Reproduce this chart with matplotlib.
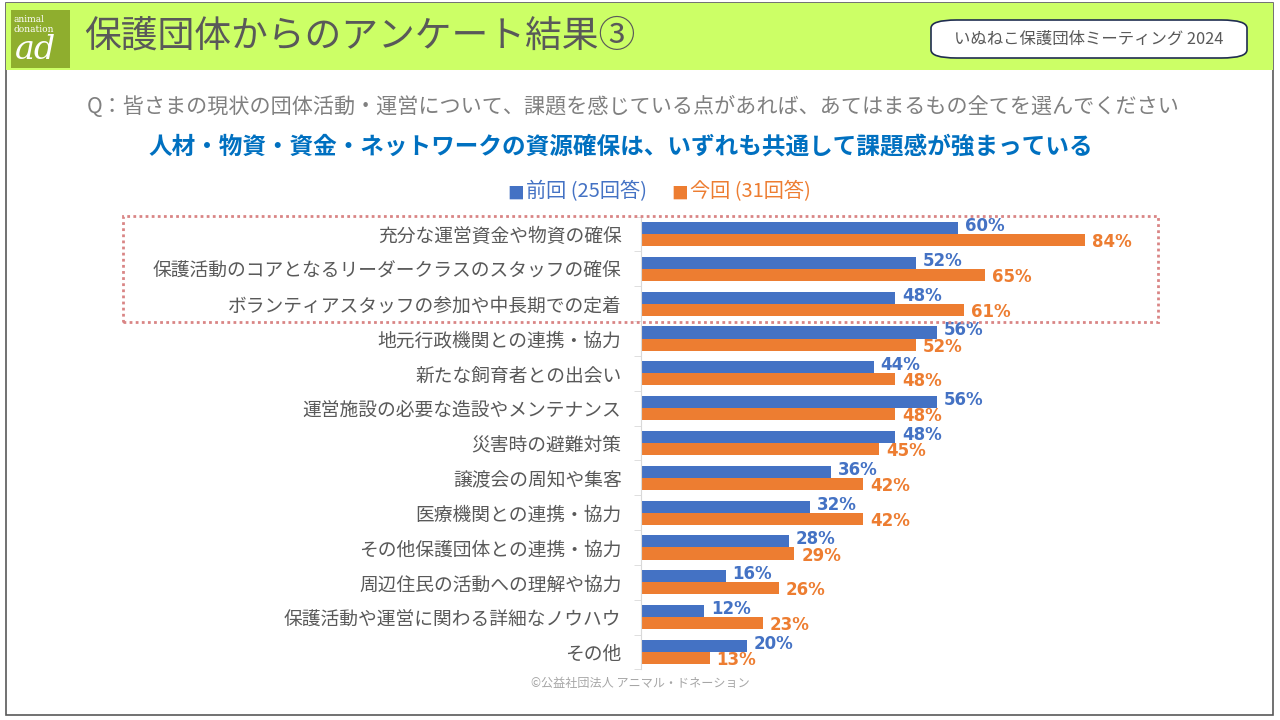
import matplotlib.pyplot as plt
from matplotlib.patches import Rectangle, FancyBboxPatch

plt.rcParams['font.family'] = ['Noto Sans CJK JP', 'DejaVu Sans']

# 設問の項目 (上から順に)
categories = [
    '充分な運営資金や物資の確保',
    '保護活動のコアとなるリーダークラスのスタッフの確保',
    'ボランティアスタッフの参加や中長期での定着',
    '地元行政機関との連携・協力',
    '新たな飼育者との出会い',
    '運営施設の必要な造設やメンテナンス',
    '災害時の避難対策',
    '譲渡会の周知や集客',
    '医療機関との連携・協力',
    'その他保護団体との連携・協力',
    '周辺住民の活動への理解や協力',
    '保護活動や運営に関わる詳細なノウハウ',
    'その他',
]
prev_pct = [60, 52, 48, 56, 44, 56, 48, 36, 32, 28, 16, 12, 20]   # 前回 (25回答)
curr_pct = [84, 65, 61, 52, 48, 48, 45, 42, 42, 29, 26, 23, 13]   # 今回 (31回答)
series_names = ['前回 (25回答)', '今回 (31回答)']

BLUE = '#4472C4'
ORANGE = '#ED7D31'
GRAY = '#595959'

W, H = 1280, 720
fig = plt.figure(figsize=(12.8, 7.2), dpi=100)


def fx(x):
    return x / W


def fy(y):
    return 1 - y / H


# 外枠とヘッダー
fig.patches.append(Rectangle((fx(6), fy(715)), fx(1267), 712 / H, transform=fig.transFigure,
                             facecolor='white', edgecolor='#595959', lw=1.2, zorder=-2))
fig.patches.append(Rectangle((fx(6), fy(70)), fx(1267), 67 / H, transform=fig.transFigure,
                             facecolor='#CCFF66', edgecolor='none', zorder=-1))
# ロゴ
fig.patches.append(Rectangle((fx(11), fy(68)), fx(59), 58 / H, transform=fig.transFigure,
                             facecolor='#8FAE2E', edgecolor='none', zorder=2))
fig.text(fx(14), fy(19), 'animal', fontsize=6.5, color='white', family='DejaVu Serif', va='center', zorder=3)
fig.text(fx(14), fy(30), 'donation', fontsize=6.5, color='white', family='DejaVu Serif', va='center', zorder=3)
fig.text(fx(15), fy(50), 'ad', fontsize=24, color='white', family='DejaVu Serif', style='italic',
         va='center', zorder=3)

fig.text(fx(84), fy(36), '保護団体からのアンケート結果③', fontsize=26.5, color=GRAY, va='center', zorder=3)

fig.patches.append(FancyBboxPatch((fx(931), fy(58)), fx(316), 38 / H, transform=fig.transFigure,
                                  boxstyle='round,pad=0,rounding_size=0.02', mutation_aspect=H / W,
                                  facecolor='white', edgecolor='#1F2D50', lw=1.2, zorder=2))
fig.text(fx(1089), fy(39), 'いぬねこ保護団体ミーティング 2024', fontsize=11.8, color=GRAY,
         ha='center', va='center', zorder=3)

fig.text(fx(633), fy(107), 'Q：皆さまの現状の団体活動・運営について、課題を感じている点があれば、あてはまるもの全てを選んでください',
         fontsize=15.2, color='#808080', ha='center', va='center')
fig.text(fx(621), fy(147), '人材・物資・資金・ネットワークの資源確保は、いずれも共通して課題感が強まっている',
         fontsize=17, color='#0070C0', weight='bold', ha='center', va='center')

# 凡例
fig.text(fx(507), fy(194), '■', fontsize=12, color=BLUE, va='center')
fig.text(fx(526), fy(192), series_names[0], fontsize=14.5, color=BLUE, va='center')
fig.text(fx(671), fy(194), '■', fontsize=12, color=ORANGE, va='center')
fig.text(fx(690), fy(192), series_names[1], fontsize=14.5, color=ORANGE, va='center')

# 棒グラフ
ax = fig.add_axes([fx(641), fy(669.4), fx(1170 - 641), (669.4 - 216.6) / H])
ax.set_zorder(3)
n = len(categories)
ypos = list(range(n))
bh = 0.345
ax.barh([y - bh / 2 for y in ypos], prev_pct, height=bh, color=BLUE, zorder=2)
ax.barh([y + bh / 2 for y in ypos], curr_pct, height=bh, color=ORANGE, zorder=2)
for y, a, b in zip(ypos, prev_pct, curr_pct):
    ax.text(a + 1.3, y - bh / 2 - 0.06, f'{a}%', color=BLUE, fontsize=12, weight='bold',
            va='center', ha='left', family=['DejaVu Sans'])
    ax.text(b + 1.3, y + bh / 2 + 0.06, f'{b}%', color=ORANGE, fontsize=12, weight='bold',
            va='center', ha='left', family=['DejaVu Sans'])

ax.set_xlim(0, 100)
ax.set_ylim(n - 0.5, -0.5)
ax.set_yticks(ypos)
ax.set_yticklabels(categories, fontsize=13.5, color=GRAY)
ax.set_yticks([y + 0.5 for y in range(-1, n)], minor=True)
ax.tick_params(axis='y', which='major', length=0, pad=14)
ax.tick_params(axis='y', which='minor', length=5, color='#D9D9D9')
ax.set_xticks([])
for s in ['top', 'right', 'bottom']:
    ax.spines[s].set_visible(False)
ax.spines['left'].set_color('#D9D9D9')
ax.patch.set_alpha(0)

# 点線の枠
fig.patches.append(Rectangle((fx(123), fy(322)), fx(1158 - 123), (322 - 216) / H, transform=fig.transFigure,
                             facecolor='none', edgecolor='#D98585', lw=2, ls=(0, (1, 1.2)), zorder=5))

fig.text(fx(640), fy(684), '©公益社団法人 アニマル・ドネーション', fontsize=8.7, color='#A6A6A6',
         ha='center', va='center')

fig.savefig('out.png', dpi=100)
